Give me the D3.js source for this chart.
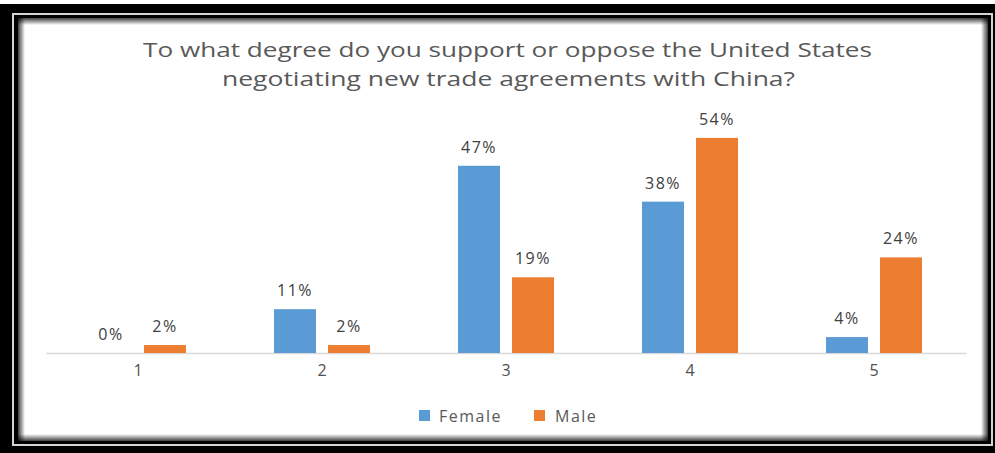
<!DOCTYPE html>
<html>
<head>
<meta charset="utf-8">
<script src="https://cdn.jsdelivr.net/npm/d3@7/dist/d3.min.js"></script>
<style>
  html, body { margin: 0; padding: 0; background: #fff; }
  svg { display: block; }
  text { font-family: "Open Sans", "Liberation Sans", sans-serif; }
</style>
</head>
<body>
<svg id="chart" width="995" height="453"></svg>
<script>
// Survey responses by gender (percent of respondents)
const categories = ["1", "2", "3", "4", "5"];
const seriesNames = ["Female", "Male"];
const femaleValues = [0, 11, 47, 38, 4];
const maleValues = [2, 2, 19, 54, 24];
const titleLines = [
  "To what degree do you support or oppose the United States",
  "negotiating new trade agreements with China?"
];

const colors = { Female: "#5b9bd5", Male: "#ed7d31" };
const W = 995, H = 453;
const svg = d3.select("#chart");
const defs = svg.append("defs");

// ---- framed card with inner shadow ----
svg.append("rect").attr("x", 0).attr("y", 4).attr("width", W).attr("height", H - 4).attr("fill", "#000");
svg.append("rect").attr("x", 13).attr("y", 14).attr("width", 979).attr("height", 431)
  .attr("fill", "none").attr("stroke", "#d4d4d4").attr("stroke-width", 2);
const inner = { x0: 18, y0: 18, x1: 988, y1: 441 };
svg.append("rect").attr("x", inner.x0).attr("y", inner.y0)
  .attr("width", inner.x1 - inner.x0).attr("height", inner.y1 - inner.y0).attr("fill", "#fff");

const shade = 7;
[["sT", 0, 0, 0, 1], ["sB", 0, 1, 0, 0], ["sL", 0, 0, 1, 0], ["sR", 1, 0, 0, 0]].forEach(([id, x1, y1, x2, y2]) => {
  const g = defs.append("linearGradient").attr("id", id)
    .attr("x1", x1).attr("y1", y1).attr("x2", x2).attr("y2", y2);
  g.append("stop").attr("offset", 0).attr("stop-color", "#000").attr("stop-opacity", 0.75);
  g.append("stop").attr("offset", 1).attr("stop-color", "#000").attr("stop-opacity", 0);
});
const iw = inner.x1 - inner.x0, ih = inner.y1 - inner.y0;
svg.append("rect").attr("x", inner.x0).attr("y", inner.y0).attr("width", iw).attr("height", shade).attr("fill", "url(#sT)");
svg.append("rect").attr("x", inner.x0).attr("y", inner.y1 - shade).attr("width", iw).attr("height", shade).attr("fill", "url(#sB)");
svg.append("rect").attr("x", inner.x0).attr("y", inner.y0).attr("width", shade).attr("height", ih).attr("fill", "url(#sL)");
svg.append("rect").attr("x", inner.x1 - shade).attr("y", inner.y0).attr("width", shade).attr("height", ih).attr("fill", "url(#sR)");

// ---- title ----
const titleSpans = [[143, 872, 57], [222, 795, 86]];
titleLines.forEach((t, i) => {
  const [a, b, y] = titleSpans[i];
  svg.append("text").attr("x", a).attr("y", y)
    .attr("textLength", b - a).attr("lengthAdjust", "spacingAndGlyphs")
    .attr("font-size", 20).attr("fill", "#595959").text(t);
});

// ---- scales ----
const x = d3.scaleBand().domain(categories).range([46, 966]);
const inner2 = d3.scaleBand().domain(seriesNames).range([-48, 48]).paddingInner(0.2222);
const y = d3.scaleLinear().domain([0, 60]).range([353, 114]);

// axis line and category labels
const axis = d3.axisBottom(x).tickSize(0).tickPadding(12);
const ax = svg.append("g").attr("transform", `translate(0,${y(0)})`).call(axis);
ax.select(".domain").attr("stroke", "#d9d9d9").attr("stroke-width", 1.5);
ax.selectAll("text").attr("font-size", 16).attr("fill", "#505050")
  .attr("font-family", "\"Open Sans\", \"Liberation Sans\", sans-serif");

// ---- bars + value labels ----
const rows = categories.map((c, i) => ({ c, Female: femaleValues[i], Male: maleValues[i] }));
seriesNames.forEach(s => {
  const g = svg.append("g");
  rows.forEach(r => {
    const cx = x(r.c) + x.bandwidth() / 2;
    const bx = cx + inner2(s);
    const bw = inner2.bandwidth();
    const v = r[s];
    g.append("rect").attr("x", bx).attr("y", y(v))
      .attr("width", bw).attr("height", y(0) - y(v)).attr("fill", colors[s]);
    g.append("text").attr("x", bx + bw / 2).attr("y", y(v) - 13)
      .attr("text-anchor", "middle").attr("font-size", 16).attr("letter-spacing", 1.5)
      .attr("fill", "#404040").text(v + "%");
  });
});

// ---- legend ----
const legendItems = [["Female", 419, 439], ["Male", 534, 555]];
legendItems.forEach(([s, sx, tx]) => {
  svg.append("rect").attr("x", sx).attr("y", 410).attr("width", 11).attr("height", 11).attr("fill", colors[s]);
  svg.append("text").attr("x", tx).attr("y", 422).attr("font-size", 16).attr("letter-spacing", 1.5)
    .attr("fill", "#595959").text(s);
});
</script>
</body>
</html>
